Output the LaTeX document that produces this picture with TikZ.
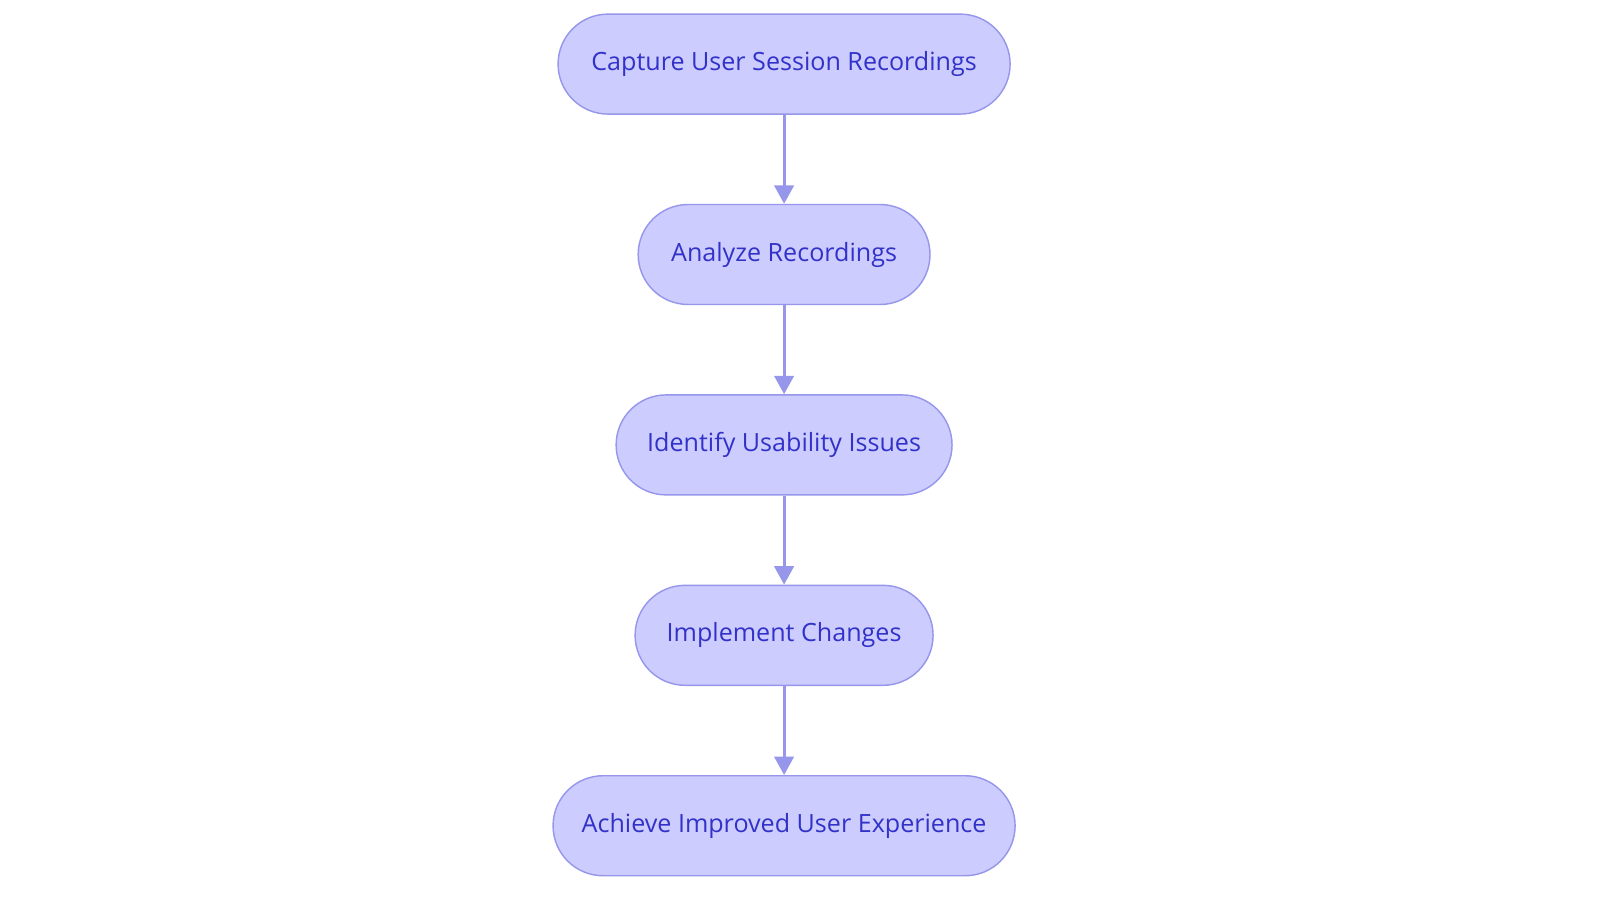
\documentclass[tikz,border=0pt]{standalone}
\usepackage{fontspec}
\setmainfont{Open Sans}
\usetikzlibrary{positioning,arrows.meta}
\definecolor{stepfill}{RGB}{204,204,255}
\definecolor{stepline}{RGB}{150,150,235}
\definecolor{steptext}{RGB}{50,50,200}
\begin{document}
\begin{tikzpicture}[x=1pt,y=1pt,node distance=43.6pt,
  stage/.style={draw=stepline,fill=stepfill,text=steptext,line width=0.7pt,
    rounded corners=24.5pt,minimum height=49pt,font=\fontsize{12.3}{14}\selectfont},
  flow/.style={draw=stepline,line width=1.4pt,-{Triangle[length=9pt,width=9.5pt]}}]
  \useasboundingbox (0,0) rectangle (784,-442.5);

  \node[stage,minimum width=221.5pt] (capture) at (384.2,-31.4) {Capture User Session Recordings};
  \node[stage,minimum width=143pt,below=of capture] (analyze) {Analyze Recordings};
  \node[stage,minimum width=164.6pt,below=of analyze] (identify) {Identify Usability Issues};
  \node[stage,minimum width=146pt,below=of identify] (implement) {Implement Changes};
  \node[stage,minimum width=226.4pt,below=of implement] (achieve) {Achieve Improved User Experience};

  \draw[flow] (capture) -- (analyze);
  \draw[flow] (analyze) -- (identify);
  \draw[flow] (identify) -- (implement);
  \draw[flow] (implement) -- (achieve);
\end{tikzpicture}
\end{document}
